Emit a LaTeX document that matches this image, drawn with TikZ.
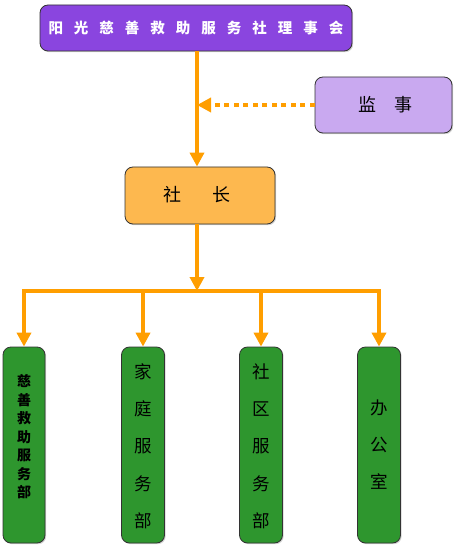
\documentclass[tikz,border=0pt]{standalone}
\usepackage{fontspec}
\newfontfamily\cjk{Noto Sans CJK SC}
\usetikzlibrary{arrows.meta,shadows}
\definecolor{topc}{HTML}{8A45DF}
\definecolor{supc}{HTML}{C9A9F0}
\definecolor{headc}{HTML}{FDB84F}
\definecolor{deptc}{HTML}{2E962E}
\definecolor{linec}{HTML}{FF9E00}
\tikzset{
  box/.style={draw=black!80, line width=0.8pt, rounded corners=8pt, inner sep=0pt,
    drop shadow={shadow xshift=1.2pt, shadow yshift=-1.2pt, opacity=0.35}},
  conn/.style={draw=linec, line width=4pt},
  tip/.style={-{Triangle[width=14pt,length=14pt]}},
}
\begin{document}
\begin{tikzpicture}[x=1pt,y=-1pt]
\useasboundingbox (0,0) rectangle (456,548);
% boxes
\node[box, fill=topc, minimum width=312pt, minimum height=46pt] (top) at (196,28) {};
\node[text=white, font=\cjk\bfseries\fontsize{14.5}{14.5}\selectfont] (toptxt) at (196,28)
  {阳\hspace{11pt}光\hspace{11pt}慈\hspace{11pt}善\hspace{11pt}救\hspace{11pt}助\hspace{11pt}服\hspace{11pt}务\hspace{11pt}社\hspace{11pt}理\hspace{11pt}事\hspace{11pt}会};
\node[box, fill=supc, minimum width=137pt, minimum height=56pt] (sup) at (383.5,105) {};
\node[font=\cjk\fontsize{18}{18}\selectfont] (suptxt) at (385.5,105) {监\hspace{17.5pt}事};
\node[box, fill=headc, minimum width=150pt, minimum height=57pt] (head) at (200,195.5) {};
\node[font=\cjk\fontsize{18}{18}\selectfont] (headtxt) at (197,195) {社\hspace{32pt}长};
% departments
\node[box, fill=deptc, minimum width=42pt, minimum height=196pt] (d1) at (24,445) {};
\node[box, fill=deptc, minimum width=43pt, minimum height=196pt] (d2) at (143,445) {};
\node[box, fill=deptc, minimum width=43pt, minimum height=196pt] (d3) at (261,445) {};
\node[box, fill=deptc, minimum width=43pt, minimum height=196pt] (d4) at (379,445) {};
\node[font=\cjk\bfseries\fontsize{14}{18.5}\selectfont, align=center] (t1) at (24,437) {慈\\善\\救\\助\\服\\务\\部};
\node[font=\cjk\fontsize{17.5}{37.3}\selectfont, align=center] (t2) at (143,446) {家\\庭\\服\\务\\部};
\node[font=\cjk\fontsize{17.5}{37.3}\selectfont, align=center] (t3) at (261,446) {社\\区\\服\\务\\部};
\node[font=\cjk\fontsize{17.5}{37}\selectfont, align=center] (t4) at (379,445) {办\\公\\室};
% connectors
\coordinate (j1) at (197,105);
\coordinate (j0) at (197,51);
\coordinate (bar) at (197,291);
\coordinate (bl) at (24,291);
\coordinate (br) at (379,291);
\draw[conn, tip] (j0) -- (head.north -| j0);
\draw[conn, tip, dash pattern=on 5pt off 4.5pt] (sup.west) -- (j1);
\draw[conn, tip] (head.south -| j0) -- (bar);
\draw[conn] (bl) -- (br);
\foreach \d in {d1,d2,d3,d4}{
  \draw[conn, tip] (bl -| \d.north) ++(0,-2) -- (\d.north);
}
\end{tikzpicture}
\end{document}
